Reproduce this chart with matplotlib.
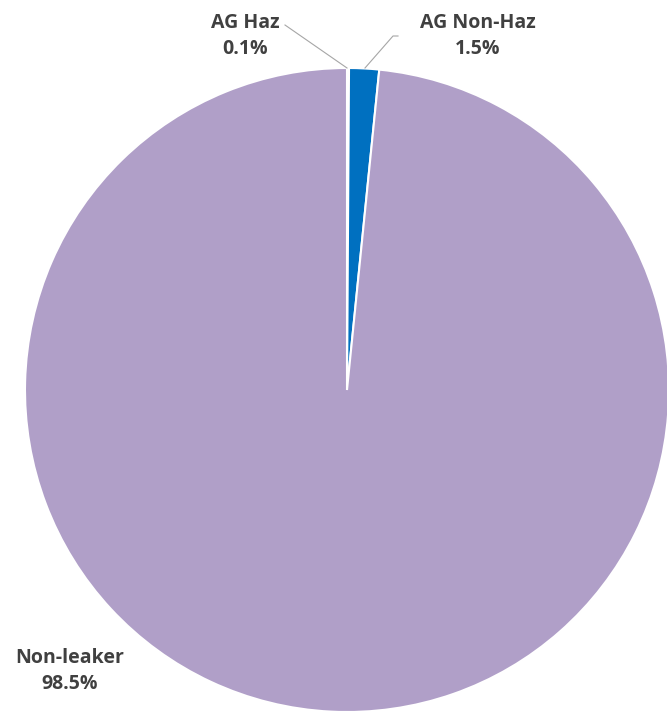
import matplotlib.pyplot as plt

labels = ["AG Haz", "AG Non-Haz", "Non-leaker"]
shares = [0.1, 1.5, 98.5]
colors = ["#00B0F0", "#0070C0", "#B09FC8"]

W, H = 667, 713
cx, cy, r = 347, 390, 322


def to_data(px, py):
    return (px - cx) / r, (cy - py) / r


fig = plt.figure(figsize=(W / 100, H / 100), dpi=100)
ax = fig.add_axes([0, 0, 1, 1])
ax.pie(shares, colors=colors, startangle=90, counterclock=False,
       wedgeprops=dict(edgecolor="white", linewidth=1.5), radius=1.0)
ax.set_aspect("auto")
ax.set_xlim(-cx / r, (W - cx) / r)
ax.set_ylim(-(H - cy) / r, cy / r)
ax.axis("off")

txt = dict(fontsize=14, fontweight="bold", color="#404040", ha="center",
           va="center", family=["Open Sans", "DejaVu Sans"], linespacing=1.45)
ax.text(*to_data(245, 36), f"{labels[0]}\n{shares[0]}%", **txt)
ax.text(*to_data(478, 36), f"{labels[1]}\n{shares[1]}%", **txt)
ax.text(*to_data(70, 671), f"{labels[2]}\n{shares[2]}%", **txt)

line = dict(color="#A6A6A6", linewidth=0.8)
x0, y0 = to_data(285, 25)
x1, y1 = to_data(347, 68)
ax.plot([x0, x1], [y0, y1], **line)
x0, y0 = to_data(393, 36)
x1, y1 = to_data(365, 68)
xa, ya = to_data(398, 36)
ax.plot([xa, x0, x1], [ya, y0, y1], **line)

fig.savefig("out.png", dpi=100)
